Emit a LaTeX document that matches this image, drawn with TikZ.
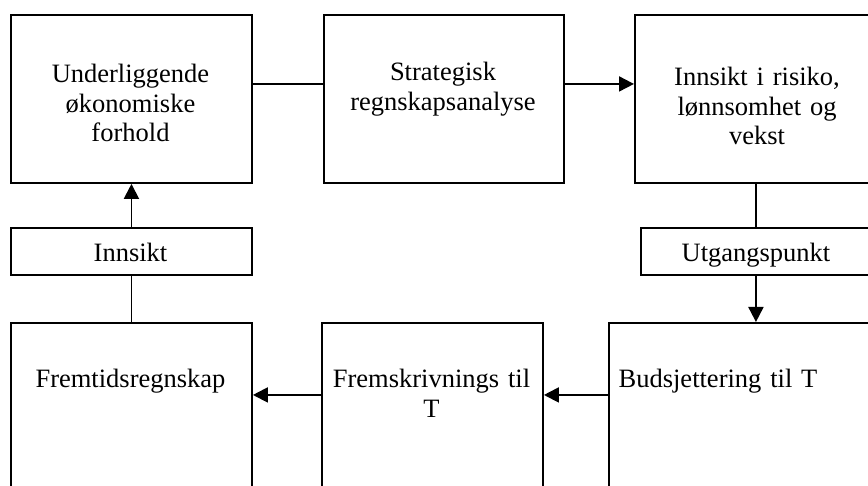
\documentclass[tikz,border=0pt]{standalone}
\usepackage{fontspec}
\setmainfont{Liberation Serif}
\usetikzlibrary{arrows.meta}
\begin{document}
\begin{tikzpicture}[x=1pt,y=-1pt,
  box/.style={draw,line width=1.9pt,inner sep=0pt,anchor=north west},
  lbl/.style={font=\fontsize{26.5}{29.5}\selectfont,align=center,text width=235pt,anchor=base,inner sep=0pt},
  conn/.style={line width=1.9pt},
  arr/.style={conn,-{Triangle[length=15pt,width=15pt]}}]
\path[use as bounding box,clip] (0,0) rectangle (868,486);
\fill[white] (0,0) rectangle (868,486);
% boxes
\node[box,minimum width=241pt,minimum height=168pt] (B1) at (10,14) {};
\node[box,minimum width=240pt,minimum height=168pt] (B2) at (323,14) {};
\node[box,minimum width=242pt,minimum height=168pt] (B3) at (634,14) {};
\node[box,minimum width=241pt,minimum height=47pt] (L1) at (10,227) {};
\node[box,minimum width=230pt,minimum height=47pt] (L2) at (640,227) {};
\node[box,minimum width=241pt,minimum height=190pt] (C1) at (10,322) {};
\node[box,minimum width=221pt,minimum height=190pt] (C2) at (321,322) {};
\node[box,minimum width=300pt,minimum height=190pt] (C3) at (608,322) {};
% texts
\node[lbl] (t1) at (130.5,83) {Underliggende\\økonomiske\\forhold};
\node[lbl] (t2) at (443,81) {Strategisk\\regnskapsanalyse};
\node[lbl] (t3) at (757,86) {Innsikt i risiko,\\lønnsomhet og\\vekst};
\node[lbl] (t4) at (130.5,262) {Innsikt};
\node[lbl] (t5) at (756,262) {Utgangspunkt};
\node[lbl] (t6) at (130.5,388) {Fremtidsregnskap};
\node[lbl] (t7) at (431.5,388) {Fremskrivnings til\\T};
\node[lbl] (t8) at (718,388) {Budsjettering til T};
% connectors
\draw[conn] ([yshift=15pt]B1.east) -- ([yshift=15pt]B2.west);
\draw[arr] ([yshift=15pt]B2.east) -- ([yshift=15pt]B3.west);
\draw[conn] (B3.south) -- (L2.north);
\draw[arr] (L2.south) -- (L2.south |- C3.north);
\draw[arr] ([yshift=23pt]C3.west) -- ([yshift=23pt]C3.west -| C2.east);
\draw[arr] ([yshift=23pt]C2.west) -- ([yshift=23pt]C2.west -| C1.east);
\draw[conn] (C1.north) -- (L1.south);
\draw[arr] (L1.north) -- (B1.south);
\end{tikzpicture}
\end{document}
